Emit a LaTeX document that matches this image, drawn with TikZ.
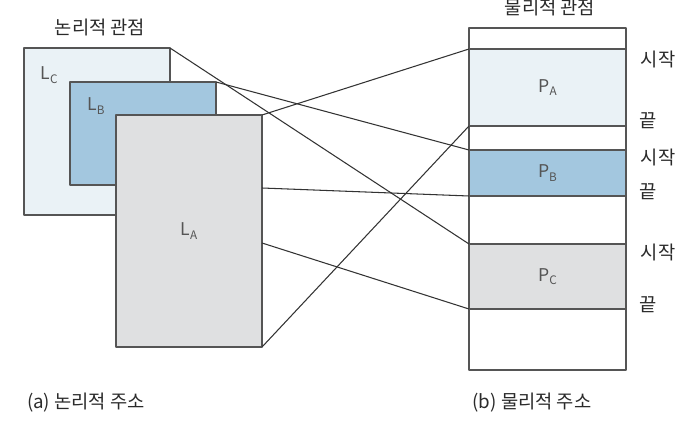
\documentclass[tikz,border=0pt]{standalone}
\usepackage{fontspec}
\setmainfont{Noto Sans CJK KR}
\definecolor{paleblue}{HTML}{EAF2F6}
\definecolor{midblue}{HTML}{A3C7DF}
\definecolor{seggray}{HTML}{DFE0E1}
\definecolor{boxgray}{HTML}{555555}
\definecolor{linkgray}{HTML}{333333}
\definecolor{textgray}{HTML}{2A2A2A}
\newcommand\subl[1]{\raisebox{-0.35ex}{\fontsize{10}{11}\selectfont #1}}
\begin{document}
\begin{tikzpicture}[x=0.03cm,y=-0.03cm,line join=round,text=textgray,font=\fontsize{16}{19}\selectfont,
	seg/.style={draw=boxgray,line width=0.9pt,inner sep=0pt,outer sep=0pt,anchor=north west,minimum width=4.38cm},
	link/.style={draw=linkgray,line width=0.9pt},
	tag/.style={text=boxgray,font=\fontsize{15}{17}\selectfont}]
	\useasboundingbox (0,0) rectangle (698,432);
	% logical view
	\node[seg,fill=paleblue,minimum height=5.01cm] (LC) at (24,48) {};
	\node[seg,fill=midblue,minimum height=3.09cm] (LB) at (70,82) {};
	\node[seg,fill=seggray,minimum height=6.96cm,tag] (LA) at (116,115) {L\subl{A}};
	\node[tag] (lc) at (49,75) {L\subl{C}};
	\node[tag] (lb) at (96,106) {L\subl{B}};
	\coordinate (la1) at (262,188);
	\coordinate (la2) at (262,243);
	% physical view
	\node[seg,minimum width=4.71cm,minimum height=10.26cm] (mem) at (469,28) {};
	\node[seg,fill=paleblue,minimum width=4.71cm,minimum height=2.31cm,tag] (PA) at (469,49) {P\subl{A}};
	\node[seg,fill=midblue,minimum width=4.71cm,minimum height=1.38cm,tag] (PB) at (469,150) {P\subl{B}};
	\node[seg,fill=seggray,minimum width=4.71cm,minimum height=1.95cm,tag] (PC) at (469,244) {P\subl{C}};
	\draw[link] (LC.north east) -- (PC.north west);
	\draw[link] (LB.north east) -- (PB.north west);
	\draw[link] (LA.north east) -- (PA.north west);
	\draw[link] (LA.south east) -- (PA.south west);
	\draw[link] (la1) -- (PB.south west);
	\draw[link] (la2) -- (PC.south west);
	\node (sa) at (658,59) {시작};
	\node (ea) at (648,121) {끝};
	\node (sb) at (658,157) {시작};
	\node (eb) at (648,192) {끝};
	\node (sc) at (658,252) {시작};
	\node (ec) at (648,305) {끝};
	\node (lv) at (100,27) {논리적 관점};
	\node (pv) at (550,7) {물리적 관점};
	\node (ca) at (86,403) {(a) 논리적 주소};
	\node (cb) at (532,403) {(b) 물리적 주소};
\end{tikzpicture}
\end{document}
